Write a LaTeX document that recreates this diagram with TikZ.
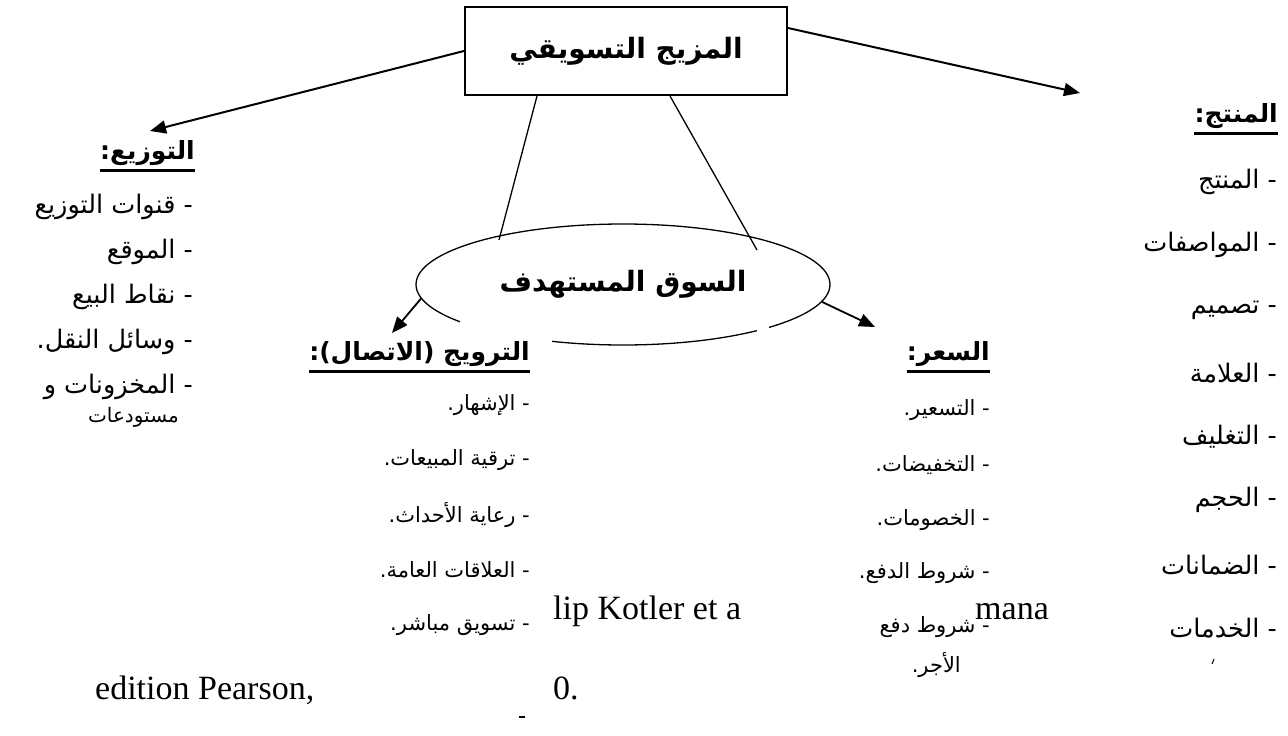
\documentclass[tikz,border=0pt]{standalone}
\usepackage{fontspec}
\setmainfont{Liberation Serif}
\newfontfamily\ar[Script=Arabic]{DejaVu Sans}
\TeXXeTstate=1
\usetikzlibrary{arrows.meta,shapes.geometric,calc}
\newcommand{\rtl}[1]{\beginR #1\endR}
\begin{document}
\begin{tikzpicture}[x=1pt,y=-1pt,
  item/.style={anchor=east,inner sep=0pt,font=\ar\fontsize{25.5}{29}\selectfont},
  sitem/.style={anchor=east,inner sep=0pt,font=\ar\fontsize{21}{25}\selectfont},
  small/.style={anchor=east,inner sep=0pt,font=\ar\fontsize{20}{24}\selectfont},
  head/.style={anchor=east,inner sep=0pt,font=\ar\bfseries\fontsize{25}{29}\selectfont},
  title/.style={font=\ar\bfseries\fontsize{28}{33}\selectfont},
  latin/.style={anchor=base west,inner sep=0pt,font=\fontsize{34}{40}\selectfont},
  uline/.style={line width=2.8pt},
  conn/.style={line width=2pt,-{Triangle[length=16pt,width=13pt]}},
  link/.style={line width=1.3pt},
  frag/.style={line width=2pt},
]
\useasboundingbox (0,0) rectangle (1288,736);

% central box
\node[draw,line width=2pt,minimum width=322pt,minimum height=88pt,inner sep=0pt,title]
  (mix) at (626,51) {\raisebox{6pt}{\rtl{المزيج التسويقي}}};

% target market ellipse
\node[ellipse,draw,link,minimum width=414pt,minimum height=121pt,inner sep=0pt,title]
  (mkt) at (623,284.5) {\raisebox{3pt}{\rtl{السوق المستهدف}}};
% openings where the ellipse outline is hidden
\fill[white] (460,318) rectangle (552,352);
\fill[white] (757,322) rectangle (769,338);

% connector end points
\coordinate (distTip) at (150,131);
\coordinate (prodTip) at (1080,93);
\coordinate (promTip) at (392,333);
\coordinate (priceTip) at (875,327);
\coordinate (mktL) at (499,240);
\coordinate (mktR) at (757,250);

\draw[conn] (mix.west) -- (distTip);
\draw[conn] ($(mix.east)+(0,-23)$) -- (prodTip);
\draw[link] ($(mix.south)+(-89,0)$) -- (mktL);
\draw[link] ($(mix.south)+(44,0)$) -- (mktR);
\draw[conn,line width=1.8pt] (mkt.184) -- (promTip);
\draw[conn,line width=1.8pt] (mkt.-5) -- (priceTip);

% distribution
\node[head] (distH) at (195,153) {\rtl{التوزيع:}};
\draw[uline] ($(distH.south west)+(0,5)$) -- ($(distH.south east)+(0,5)$);
\node[item] (d1) at (193,207) {\rtl{- قنوات التوزيع}};
\node[item] (d2) at (193,252) {\rtl{- الموقع}};
\node[item] (d3) at (193,297) {\rtl{- نقاط البيع}};
\node[item] (d4) at (193,342) {\rtl{- وسائل النقل.}};
\node[item] (d5) at (193,387) {\rtl{- المخزونات و}};
\node[small] (d6) at (179,417) {\rtl{مستودعات}};

% product
\node[head] (prodH) at (1278,116) {\rtl{المنتج:}};
\draw[uline] ($(prodH.south west)+(0,5)$) -- ($(prodH.south east)+(0,5)$);
\node[item] (p1) at (1277,182) {\rtl{- المنتج}};
\node[item] (p2) at (1277,245) {\rtl{- المواصفات}};
\node[item] (p3) at (1277,310) {\rtl{- تصميم}};
\node[item] (p4) at (1277,373) {\rtl{- العلامة}};
\node[item] (p5) at (1277,437) {\rtl{- التغليف}};
\node[item] (p6) at (1277,500) {\rtl{- الحجم}};
\node[item] (p7) at (1277,565) {\rtl{- الضمانات}};
\node[item] (p8) at (1277,628) {\rtl{- الخدمات}};
\draw[line width=1pt] (1212,664) -- (1214,659);

% promotion
\node[head] (promH) at (530,354) {\rtl{الترويج (الاتصال):}};
\draw[uline] ($(promH.south west)+(0,5)$) -- ($(promH.south east)+(0,5)$);
\node[sitem] (r1) at (530,405) {\rtl{- الإشهار.}};
\node[sitem] (r2) at (530,460) {\rtl{- ترقية المبيعات.}};
\node[sitem] (r3) at (530,515) {\rtl{- رعاية الأحداث.}};
\node[sitem] (r4) at (530,570) {\rtl{- العلاقات العامة.}};
\node[sitem] (r5) at (530,625) {\rtl{- تسويق مباشر.}};
\draw[frag] (519,717) -- (525,717);

% price
\node[head] (priceH) at (990,354) {\rtl{السعر:}};
\draw[uline] ($(priceH.south west)+(0,5)$) -- ($(priceH.south east)+(0,5)$);
\node[sitem] (s1) at (990,410) {\rtl{- التسعير.}};
\node[sitem] (s2) at (990,465) {\rtl{- التخفيضات.}};
\node[sitem] (s3) at (990,520) {\rtl{- الخصومات.}};
\node[sitem] (s4) at (990,573) {\rtl{- شروط الدفع.}};
\node[sitem] (s5) at (990,627) {\rtl{- شروط دفع}};
\node[sitem] (s6) at (961,665) {\rtl{الأجر.}};

% reference fragments
\node[latin] (ref1) at (553,619) {lip Kotler et a};
\node[latin] (ref2) at (975,619) {mana};
\node[latin] (ref3) at (95,699) {edition Pearson,};
\node[latin] (ref4) at (553,699) {0.};
\end{tikzpicture}
\end{document}
